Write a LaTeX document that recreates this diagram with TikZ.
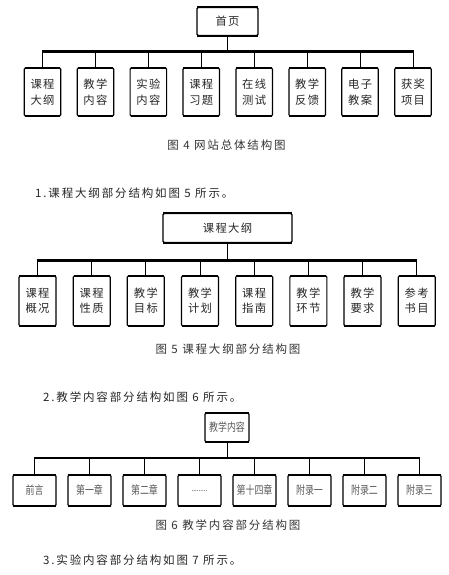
\documentclass[tikz,border=0pt]{standalone}
\usepackage{fontspec}
\setmainfont{Noto Sans CJK SC}[LetterSpace=12]
\newfontfamily\widecjk{Noto Sans CJK SC}[LetterSpace=16]
\newfontfamily\narrowcjk{Noto Sans CJK SC}[FakeStretch=0.78]
\newcommand\thickedges[1]{\draw[line width=2.2pt] ([xshift=1pt,yshift=-0.3pt]#1.north west) -- ([xshift=-1pt,yshift=-0.3pt]#1.north east) ([xshift=1pt,yshift=0.3pt]#1.south west) -- ([xshift=-1pt,yshift=0.3pt]#1.south east);}
\newcommand\dotrow{{\fontsize{8}{8}\selectfont\raisebox{-2pt}{.........}}}
\tikzset{
  box/.style={draw, line width=1.2pt, rounded corners=1.2pt, inner sep=0pt, align=center, text=black!85},
  kid/.style={box, font=\fontsize{11.3}{16}\selectfont},
  kidb/.style={box, font=\fontsize{11.3}{15}\selectfont},
  kidc/.style={box, font=\narrowcjk\fontsize{11.5}{12}\selectfont, text=black!65},
  bus/.style={line width=3pt},
  busc/.style={line width=2pt},
  link/.style={line width=1pt},
  captext/.style={font=\widecjk\fontsize{11.5}{13}\selectfont, text=black!80, inner sep=0pt},
  para/.style={font=\widecjk\fontsize{11.5}{13}\selectfont, text=black!85, inner sep=0pt, anchor=west},
}
\begin{document}
\begin{tikzpicture}[x=1pt,y=-1pt]
\useasboundingbox (0,0) rectangle (449,575);
% ---------- Figure 4 ----------
\node[box, minimum width=61, minimum height=28, font=\fontsize{11.3}{14}\selectfont] (t4) at (227.5,21.5) {首页};
\thickedges{t4}
\coordinate (b4L) at (42.5,52);
\coordinate (b4R) at (413,52);
\draw[bus] ([xshift=-0.5pt]b4L) -- ([xshift=0.5pt]b4R);
\draw[link] (t4.south) -- (t4.south |- b4L);
\foreach \t [count=\i from 0] in {{课程\\大纲},{教学\\内容},{实验\\内容},{课程\\习题},{在线\\测试},{教学\\反馈},{电子\\教案},{获奖\\项目}}{
  \node[kid, minimum width=36.5, minimum height=48] (c4-\i) at (42.5+52.93*\i,92) {\t};
  \thickedges{c4-\i}
  \draw[link] (c4-\i.north) -- (c4-\i.north |- b4L);
}
\node[captext] (cap4) at (226.5,145) {图 4 网站总体结构图};
% ---------- paragraph 1 ----------
\node[para] (p1) at (35,193) {1.课程大纲部分结构如图 5 所示。};
% ---------- Figure 5 ----------
\node[box, minimum width=129, minimum height=29, font=\fontsize{11.3}{14}\selectfont] (t5) at (227.5,228) {课程大纲};
\thickedges{t5}
\coordinate (b5L) at (37.5,260);
\coordinate (b5R) at (416.7,260);
\draw[bus] ([xshift=-0.5pt]b5L) -- ([xshift=0.5pt]b5R);
\draw[link] (t5.south) -- (t5.south |- b5L);
\foreach \t [count=\i from 0] in {{课程\\概况},{课程\\性质},{教学\\目标},{教学\\计划},{课程\\指南},{教学\\环节},{教学\\要求},{参考\\书目}}{
  \node[kidb, minimum width=37, minimum height=50] (c5-\i) at (37.5+54.17*\i,301) {\t};
  \thickedges{c5-\i}
  \draw[link] (c5-\i.north) -- (c5-\i.north |- b5L);
}
\node[captext] (cap5) at (228,349) {图 5 课程大纲部分结构图};
% ---------- paragraph 2 ----------
\node[para] (p2) at (43,397) {2.教学内容部分结构如图 6 所示。};
% ---------- Figure 6 ----------
\node[box, minimum width=44, minimum height=29, font=\narrowcjk\fontsize{11.5}{12}\selectfont, text=black!65] (t6) at (227,427.5) {教学内容};
\thickedges{t6}
\coordinate (b6L) at (34.5,458);
\coordinate (b6R) at (419.5,458);
\draw[busc] ([xshift=-0.5pt]b6L) -- ([xshift=0.5pt]b6R);
\draw[link] (t6.south) -- (t6.south |- b6L);
\foreach \t [count=\i from 0] in {前言,第一章,第二章,\dotrow,第十四章,附录一,附录二,附录三}{
  \node[kidc, minimum width=43, minimum height=31] (c6-\i) at (34.5+55*\i,490.5) {\t};
  \thickedges{c6-\i}
  \draw[link] (c6-\i.north) -- (c6-\i.north |- b6L);
}
\node[captext] (cap6) at (228,525) {图 6 教学内容部分结构图};
% ---------- paragraph 3 ----------
\node[para] (p3) at (43,560) {3.实验内容部分结构如图 7 所示。};
\end{tikzpicture}
\end{document}
